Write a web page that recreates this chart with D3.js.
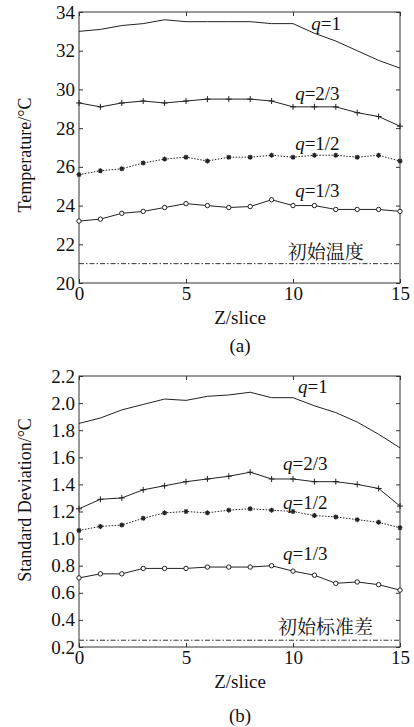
<!DOCTYPE html>
<html>
<head>
<meta charset="utf-8">
<script src="https://cdn.jsdelivr.net/npm/d3@7"></script>
<style>
body { margin:0; background:#fff; }
</style>
</head>
<body>
<svg width="414" height="727"></svg>
<script>
// slice index on the x axis
var slices = [0,1,2,3,4,5,6,7,8,9,10,11,12,13,14,15];

// (a) mean temperature per slice
var tempQ1  = [33.0,33.1,33.3,33.4,33.6,33.5,33.5,33.5,33.5,33.4,33.4,32.9,32.5,32.0,31.5,31.1];
var tempQ23 = [29.3,29.1,29.3,29.4,29.3,29.4,29.5,29.5,29.5,29.4,29.1,29.1,29.1,28.8,28.6,28.1];
var tempQ12 = [25.6,25.8,25.9,26.2,26.4,26.5,26.3,26.5,26.5,26.6,26.5,26.6,26.6,26.5,26.6,26.3];
var tempQ13 = [23.2,23.3,23.6,23.7,23.9,24.1,24.0,23.9,23.95,24.3,24.0,24.0,23.8,23.8,23.8,23.7];
var tempInit = 21;
var tempTicks = [20,22,24,26,28,30,32,34];

// (b) standard deviation per slice
var stdQ1  = [1.85,1.89,1.95,1.99,2.03,2.02,2.05,2.06,2.08,2.04,2.04,1.98,1.93,1.86,1.77,1.67];
var stdQ23 = [1.22,1.29,1.30,1.36,1.39,1.42,1.44,1.46,1.49,1.44,1.44,1.42,1.42,1.40,1.37,1.24];
var stdQ12 = [1.06,1.09,1.10,1.15,1.19,1.20,1.19,1.21,1.22,1.21,1.20,1.17,1.16,1.14,1.12,1.08];
var stdQ13 = [0.71,0.74,0.74,0.78,0.78,0.78,0.79,0.79,0.79,0.80,0.76,0.73,0.67,0.68,0.66,0.62];
var stdInit = 0.25;
var stdTicks = [0.2,0.4,0.6,0.8,1.0,1.2,1.4,1.6,1.8,2.0,2.2];

var xTicks = [0,5,10,15];
var qNames = ["1","2/3","1/2","1/3"];

var serif = "'Times New Roman', 'Liberation Serif', serif";
var song = "'Noto Serif CJK SC', 'Noto Sans CJK SC', serif";
var svg = d3.select('svg');
var left = 79, right = 400;

function drawPanel(cfg){
	var g = svg.append('g');
	var x = d3.scaleLinear().domain([0,15]).range([left,right]);
	var y = d3.scaleLinear().domain(cfg.domain).range([cfg.bottom,cfg.top]);

	// frame
	g.append('rect')
		.attr("x",left).attr("y",cfg.top)
		.attr("width",right-left).attr("height",cfg.bottom-cfg.top)
		.attr("fill","none").attr("stroke","#333").attr("stroke-width",1);

	var ax = function(a){
		a.attr("font-family",serif).attr("font-size",19);
		a.select('.domain').remove();
		a.selectAll('line').attr("stroke","#333");
		a.selectAll('text').attr("fill","#111");
	};
	g.append('g').attr("transform","translate(0,"+cfg.bottom+")")
		.call(d3.axisBottom(x).tickValues(xTicks).tickSize(-4).tickPadding(4).tickFormat(d3.format("d")))
		.call(ax);
	g.append('g').attr("transform","translate(0,"+cfg.top+")")
		.call(d3.axisTop(x).tickValues(xTicks).tickSize(-4).tickFormat(""))
		.call(ax);
	g.append('g').attr("transform","translate("+left+",0)")
		.call(d3.axisLeft(y).tickValues(cfg.ticks).tickSize(-4).tickPadding(4).tickFormat(cfg.fmt))
		.call(ax);
	g.append('g').attr("transform","translate("+right+",0)")
		.call(d3.axisRight(y).tickValues(cfg.ticks).tickSize(-4).tickFormat(""))
		.call(ax);

	var line = d3.line().x(function(d,i){ return x(slices[i]); }).y(function(d){ return y(d); });

	// initial value reference line
	g.append('line')
		.attr("x1",left).attr("x2",right)
		.attr("y1",y(cfg.init)).attr("y2",y(cfg.init))
		.attr("stroke","#333").attr("stroke-width",1)
		.attr("stroke-dasharray","5,2,1.5,2");

	var styles = ["none","plus","star","circle"];
	cfg.series.forEach(function(s,k){
		g.append('path').datum(s)
			.attr("d",line)
			.attr("fill","none")
			.attr("stroke","#222")
			.attr("stroke-width",1)
			.attr("stroke-dasharray", k==2 ? "1.5,1.5" : null);
		var m = g.selectAll('.m'+k).data(s).enter().append('g')
			.attr("transform",function(d,i){ return "translate("+x(slices[i])+","+y(d)+")"; });
		if(styles[k]=="plus"){
			m.append('path').attr("d","M-3,0H3M0,-3V3").attr("stroke","#222").attr("stroke-width",1);
		} else if(styles[k]=="star"){
			m.append('path').attr("d","M-2.5,0H2.5M0,-2.5V2.5M-1.8,-1.8L1.8,1.8M-1.8,1.8L1.8,-1.8")
				.attr("stroke","#222").attr("stroke-width",1.2);
		} else if(styles[k]=="circle"){
			m.append('circle').attr("r",2.2).attr("fill","#fff").attr("stroke","#222").attr("stroke-width",1);
		}
	});

	// series labels
	cfg.labels.forEach(function(l,k){
		var t = g.append('text')
			.attr("x",x(l[0])).attr("y",y(l[1]))
			.attr("font-family",serif).attr("font-size",19).attr("fill","#111");
		t.append('tspan').attr("font-style","italic").text("q");
		t.append('tspan').text("="+qNames[k]);
	});
	g.append('text')
		.attr("x",x(cfg.initLabel[0])).attr("y",y(cfg.initLabel[1]))
		.attr("font-family",song).attr("font-size",19).attr("fill","#111")
		.text(cfg.initText);

	// axis titles
	g.append('text')
		.attr("transform","translate(31,"+cfg.titleY+") rotate(-90)")
		.attr("text-anchor","middle")
		.attr("font-family",serif).attr("font-size",18).attr("fill","#111")
		.text(cfg.yTitle);
	g.append('text')
		.attr("x",240).attr("y",cfg.bottom+41)
		.attr("text-anchor","middle")
		.attr("font-family",serif).attr("font-size",19).attr("fill","#111")
		.text("Z/slice");
	g.append('text')
		.attr("x",240).attr("y",cfg.bottom+cfg.tagOff)
		.attr("text-anchor","middle")
		.attr("font-family",serif).attr("font-size",19).attr("fill","#111")
		.text(cfg.tag);
}

drawPanel({
	top:12, bottom:283, domain:[20,34], ticks:tempTicks, fmt:d3.format("d"),
	series:[tempQ1,tempQ23,tempQ12,tempQ13], init:tempInit,
	labels:[[10.85,33.07],[10.1,29.45],[10.1,26.87],[10.1,24.44]],
	initLabel:[9.75,21.25], initText:"初始温度",
	yTitle:"Temperature/°C", titleY:155, tag:"(a)", tagOff:69
});

drawPanel({
	top:376, bottom:647, domain:[0.2,2.2], ticks:stdTicks, fmt:d3.format(".1f"),
	series:[stdQ1,stdQ23,stdQ12,stdQ13], init:stdInit,
	labels:[[10.23,2.075],[9.53,1.506],[9.53,1.218],[9.53,0.842]],
	initLabel:[9.3,0.296], initText:"初始标准差",
	yTitle:"Standard Deviation/°C", titleY:500, tag:"(b)", tagOff:75
});
</script>
</body>
</html>
